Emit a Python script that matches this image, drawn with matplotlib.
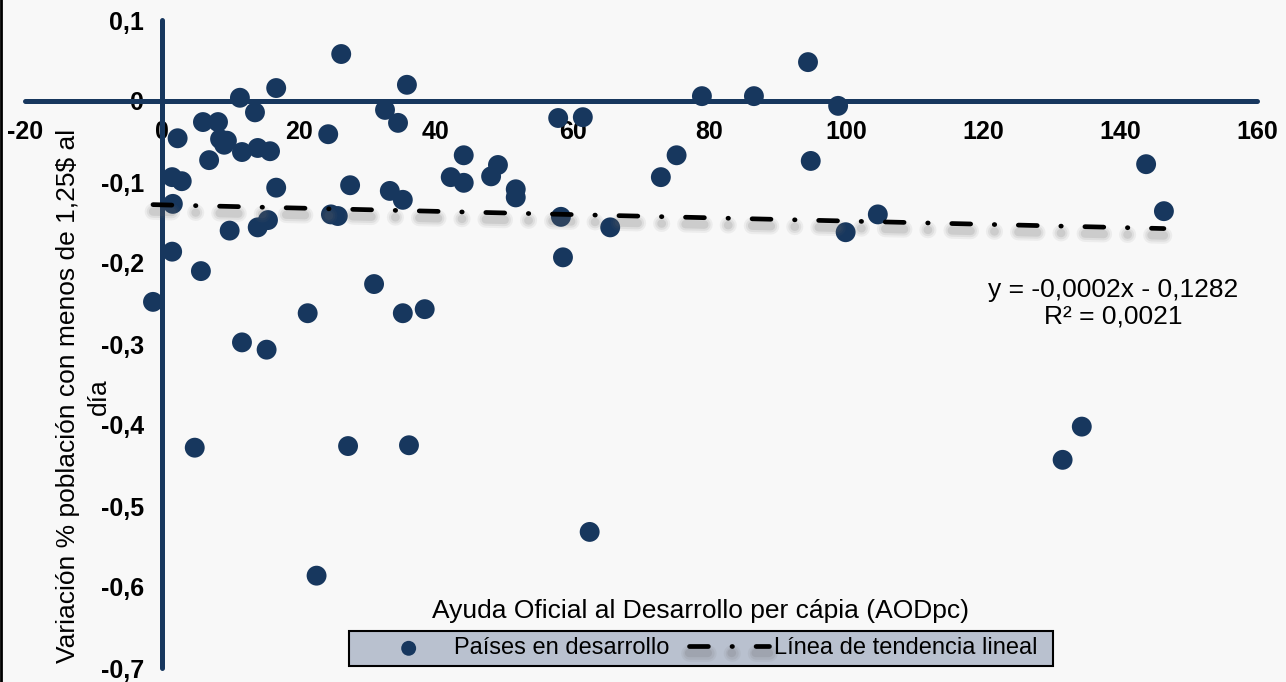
import matplotlib
matplotlib.use("Agg")
import matplotlib.pyplot as plt
import matplotlib.patheffects as pe
from matplotlib.patches import Rectangle
from matplotlib.ticker import FuncFormatter, MultipleLocator
import numpy as np

plt.rcParams['font.family'] = ['Liberation Sans', 'DejaVu Sans']

# AOD per capita (x) vs variation of % population under 1,25$ a day (y)
aod = [-1.3, 1.5, 2.3, 1.6, 1.5, 2.9, 4.8, 5.7, 6.0, 6.9,
       8.2, 8.5, 9.1, 9.5, 9.9, 11.4, 11.7, 11.7, 13.6, 14.0,
       14.0, 15.5, 15.8, 15.3, 16.7, 16.7, 21.3, 22.6, 24.3, 24.7,
       25.7, 26.2, 27.2, 27.5, 31.0, 32.6, 33.3, 34.5, 35.2, 35.2,
       35.8, 36.1, 38.4, 42.2, 44.1, 44.1, 48.1, 49.1, 51.7, 51.7,
       57.9, 58.3, 58.6, 61.5, 62.5, 65.5, 72.9, 75.2, 78.9, 86.5,
       94.4, 94.8, 98.8, 99.9, 104.6, 131.6, 134.4, 143.8, 146.4]
pobreza = [-0.248, -0.094, -0.046, -0.127, -0.186, -0.099, -0.428, -0.210, -0.026, -0.073,
           -0.026, -0.047, -0.054, -0.049, -0.160, 0.004, -0.063, -0.298, -0.014, -0.058,
           -0.156, -0.147, -0.062, -0.307, 0.016, -0.107, -0.262, -0.586, -0.041, -0.140,
           -0.142, 0.058, -0.426, -0.104, -0.226, -0.011, -0.111, -0.027, -0.122, -0.262,
           0.020, -0.425, -0.257, -0.094, -0.067, -0.101, -0.093, -0.079, -0.109, -0.119,
           -0.021, -0.143, -0.193, -0.020, -0.532, -0.156, -0.094, -0.067, 0.006, 0.006,
           0.048, -0.074, -0.006, -0.162, -0.140, -0.443, -0.402, -0.078, -0.136]

# trend line as reported on the chart
slope = -0.0002
intercept = -0.1282
r2 = 0.0021

navy = '#17375e'
W, H = 1286, 682


def comma(v, nd):
    return ('%.*f' % (nd, v)).replace('.', ',')


fig = plt.figure(figsize=(W / 100, H / 100), dpi=100, facecolor='#f8f8f8')
ax = fig.add_axes([25/W, 14/H, 1232/W, 648/H])
ax.set_facecolor('#f8f8f8')

pts = ax.scatter(aod, pobreza, s=205, color=navy, edgecolors='none', zorder=3,
                 label='Países en desarrollo')

xt = np.array([min(aod), max(aod)])
shadow = [pe.SimpleLineShadow(offset=(0, -5), shadow_color='0.4', alpha=a, linewidth=w)
          for a, w in [(0.08, 12), (0.10, 9), (0.15, 6)]]
trend, = ax.plot(xt, slope * xt + intercept, color='black', lw=3.4,
                 linestyle=(0, (4.0, 5.0, 0.1, 5.0)), dash_capstyle='round',
                 zorder=4, label='Línea de tendencia lineal',
                 path_effects=shadow + [pe.Normal()])

ax.set_xlim(-20, 160)
ax.set_ylim(-0.7, 0.1)
ax.xaxis.set_major_locator(MultipleLocator(20))
ax.yaxis.set_major_locator(MultipleLocator(0.1))


def fmt_y(v, pos):
    if abs(v) < 1e-9:
        return '0'
    return comma(v, 1)


ax.yaxis.set_major_formatter(FuncFormatter(fmt_y))
ax.xaxis.set_major_formatter(FuncFormatter(lambda v, p: '%d' % round(v)))

for side in ['top', 'right']:
    ax.spines[side].set_visible(False)
for side in ['left', 'bottom']:
    ax.spines[side].set_position(('data', 0))
    ax.spines[side].set_linewidth(3.6)
    ax.spines[side].set_color(navy)
    ax.spines[side].set_capstyle('round')

ax.tick_params(axis='x', length=0, pad=14, labelsize=18)
ax.tick_params(axis='y', length=0, pad=13, labelsize=18)
for lab in ax.get_xticklabels() + ax.get_yticklabels():
    lab.set_fontweight('bold')

# y label, written as two lines (Excel wrapped it)
fig.text(68/W, 1 - 396/H, 'Variación % población con menos de 1,25$ al',
         rotation=90, ha='center', va='center', fontsize=19)
fig.text(99/W, 1 - 397/H, 'día', rotation=90, ha='center', va='center', fontsize=19)

fig.text(701/W, 1 - 611/H, 'Ayuda Oficial al Desarrollo per cápia (AODpc)',
         ha='center', va='center', fontsize=19)
eq = 'y = %sx - %s\nR² = %s' % (comma(slope, 4), comma(-intercept, 4), comma(r2, 4))
fig.text(1113/W, 1 - 303/H, eq, ha='center', va='center',
         multialignment='center', fontsize=19, linespacing=1.15)

# legend box
fig.add_artist(Rectangle((349/W, 1 - 666/H), 704/W, 35/H, transform=fig.transFigure,
                         facecolor='#b9c1cf', edgecolor='black', lw=1.5, zorder=5))
leg = fig.legend([pts, trend], ['Países en desarrollo', 'Línea de tendencia lineal'],
                 loc='center', bbox_to_anchor=(703/W, 1 - 648.5/H), ncol=2, fontsize=17,
                 frameon=False, handlelength=3.4, handletextpad=0.2, columnspacing=0.85,
                 borderpad=0, markerscale=0.75)
leg.set_zorder(6)

# thin dark border on the left edge
fig.add_artist(plt.Line2D([0.001, 0.001], [0, 1], color='black', lw=2,
                          transform=fig.transFigure))

fig.savefig('out.png', dpi=100, facecolor=fig.get_facecolor())
